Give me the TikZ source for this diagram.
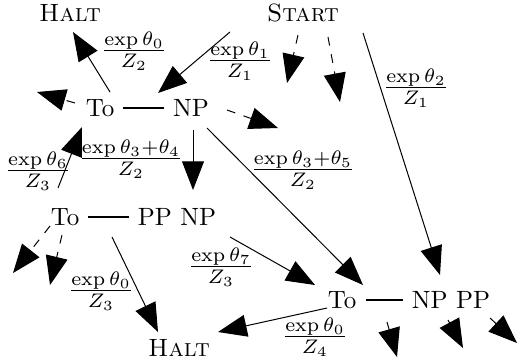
\documentclass[tikz,border=0pt]{standalone}
\usepackage{graphicx}
\usetikzlibrary{arrows.meta}
\newcommand{\lfrac}[2]{\scalebox{1.12}{$\frac{#1}{#2}$}}
\begin{document}
\begin{tikzpicture}[x=0.4pt,y=-0.4pt,
  txt/.style={inner sep=0pt},
  lbl/.style={inner sep=0pt},
  arr/.style={-{Triangle[length=11.5pt,width=8.8pt]}},
  darr/.style={arr,dash pattern=on 3.5pt off 3.5pt},
  bar/.style={line width=1pt,shorten <=3.5pt,shorten >=3.5pt}]
\useasboundingbox (0,0) rectangle (517,362);
% nodes
\node[txt] (haltT) at (70,13) {\textsc{Halt}};
\node[txt] (start) at (303,13) {\textsc{Start}};
\node[txt] (to1) at (100,108) {To};
\node[txt] (np1) at (191,108) {NP};
\node[txt] (to2) at (65,217) {To};
\node[txt] (ppnp) at (177,217) {PP NP};
\node[txt] (to3) at (342,300) {To};
\node[txt] (nppp) at (451,300) {NP PP};
\node[txt] (haltB) at (179,348) {\textsc{Halt}};
% bars
\draw[bar] (to1.east) -- (np1.west);
\draw[bar] (to2.east) -- (ppnp.west);
\draw[bar] (to3.east) -- (nppp.west);
% edges
\draw[arr] ([shift={(10,-16)}]to1.center) -- ([shift={(3,19)}]haltT.center);
\draw[arr] ([shift={(-73,19)}]start.center) -- ([shift={(-33,-15)}]np1.center);
\draw[darr] ([shift={(-25,-5)}]to1.center) -- ([shift={(-63,-16)}]to1.center);
\draw[darr] ([shift={(36,2)}]np1.center) -- ([shift={(87,20)}]np1.center);
\draw[darr] ([shift={(-5,22)}]start.center) -- ([shift={(-16,70)}]start.center);
\draw[darr] ([shift={(25,24)}]start.center) -- ([shift={(37,89)}]start.center);
\draw[arr] ([shift={(60,20)}]start.center) -- ([shift={(-11,-25)}]nppp.center);
\draw[arr] ([shift={(2,22)}]np1.center) -- ([shift={(16,-27)}]ppnp.center);
\draw[arr] ([shift={(16,20)}]np1.center) -- ([shift={(21,-15)}]to3.center);
\draw[arr] ([shift={(-7,-29)}]to2.center) -- ([shift={(-18,19)}]to1.center);
\draw[darr] ([shift={(-15,9)}]to2.center) -- ([shift={(-52,56)}]to2.center);
\draw[darr] ([shift={(-3,18)}]to2.center) -- ([shift={(-15,68)}]to2.center);
\draw[arr] ([shift={(47,20)}]to2.center) -- ([shift={(-21,-16)}]haltB.center);
\draw[arr] ([shift={(53,20)}]ppnp.center) -- ([shift={(-27,-15)}]to3.center);
\draw[arr] ([shift={(-15,8)}]to3.center) -- ([shift={(39,-16)}]haltB.center);
\draw[darr] ([shift={(-64,22)}]nppp.center) -- ([shift={(-54,57)}]nppp.center);
\draw[darr] ([shift={(-3,20)}]nppp.center) -- ([shift={(12,48)}]nppp.center);
\draw[darr] ([shift={(39,18)}]nppp.center) -- ([shift={(66,43)}]nppp.center);
% labels
\node[lbl] (l1) at (134,51) {\lfrac{\exp\theta_0}{Z_2}};
\node[lbl] (l2) at (240,61) {\lfrac{\exp\theta_1}{Z_1}};
\node[lbl] (l3) at (416,88) {\lfrac{\exp\theta_2}{Z_1}};
\node[lbl] (l4) at (38,171) {\lfrac{\exp\theta_6}{Z_3}};
\node[lbl] (l5) at (131,159) {\lfrac{\exp\theta_3+\theta_4}{Z_2}};
\node[lbl] (l6) at (303,170) {\lfrac{\exp\theta_3+\theta_5}{Z_2}};
\node[lbl] (l7) at (101,291) {\lfrac{\exp\theta_0}{Z_3}};
\node[lbl] (l8) at (221,267) {\lfrac{\exp\theta_7}{Z_3}};
\node[lbl] (l9) at (315,337) {\lfrac{\exp\theta_0}{Z_4}};
\end{tikzpicture}
\end{document}
